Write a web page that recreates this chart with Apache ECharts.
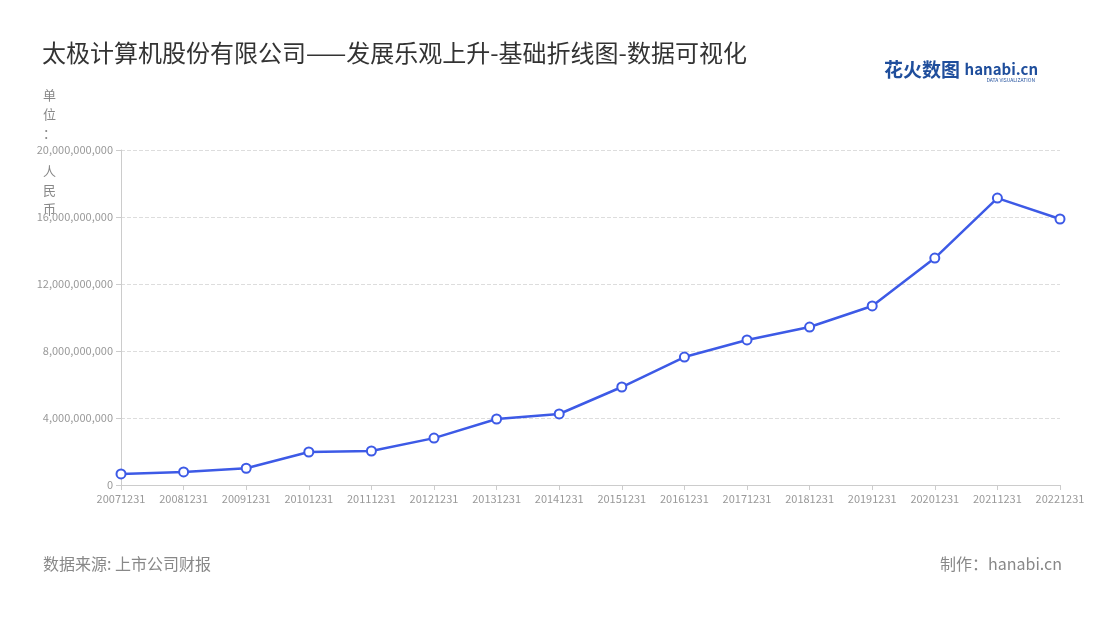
<!DOCTYPE html>
<html><head><meta charset="utf-8">
<script src="https://cdn.jsdelivr.net/npm/echarts@6/dist/echarts.min.js"></script>
<style>html,body{margin:0;padding:0;background:#fff}#c{width:1100px;height:620px}</style>
</head><body><div id="c"></div>
<script>
const categories = ['20071231','20081231','20091231','20101231','20111231','20121231','20131231','20141231','20151231','20161231','20171231','20181231','20191231','20201231','20211231','20221231'];
const revenue = [660000000,780000000,1000000000,1970000000,2030000000,2800000000,3940000000,4240000000,5850000000,7640000000,8660000000,9430000000,10690000000,13550000000,17130000000,15880000000];
const chart = echarts.init(document.getElementById('c'));
const ff = '"Noto Sans CJK SC","Noto Sans",sans-serif';
chart.setOption({
  textStyle:{fontFamily:ff},
  title:{text:'太极计算机股份有限公司——发展乐观上升-基础折线图-数据可视化',left:37,top:36,textStyle:{fontSize:24,fontWeight:'normal',color:'#333',fontFamily:ff}},
  grid:{left:121,right:40,top:150,bottom:135},
  graphic:[
    {type:'text',left:43,top:86,style:{text:'单\n位\n：\n\n人\n民\n币',fill:'#888',font:'13px '+ff,lineHeight:19}},
    {type:'text',left:43,top:556,style:{text:'数据来源: 上市公司财报',fill:'#888',font:'16px '+ff}},
    {type:'text',right:38,top:556,style:{text:'制作：hanabi.cn',fill:'#888',font:'16px '+ff}},
    {type:'text',right:140,top:60,style:{text:'花火数图',fill:'#1f4e9c',font:'bold 19px '+ff}},
    {type:'text',right:62,top:62,style:{text:'hanabi.cn',fill:'#1f4e9c',font:'bold 15px '+ff}},
    {type:'text',right:65,top:78,style:{text:'DATA VISUALIZATION',fill:'#1f4e9c',font:'5px '+ff}}
  ],
  xAxis:{type:'category',data:categories,boundaryGap:false,
    axisLine:{lineStyle:{color:'#ccc'}},axisTick:{show:true,lineStyle:{color:'#ccc'}},
    axisLabel:{color:'#999',fontSize:11,interval:0}},
  yAxis:{type:'value',min:0,max:20000000000,interval:4000000000,
    axisLine:{show:true,lineStyle:{color:'#ccc'}},axisTick:{show:true,lineStyle:{color:'#ccc'}},
    splitLine:{lineStyle:{type:'dashed',color:'#ddd'}},
    axisLabel:{color:'#999',fontSize:11,formatter:v=>v.toLocaleString('en-US')}},
  series:[{type:'line',data:revenue,symbol:'circle',symbolSize:9,
    lineStyle:{color:'#3d5ae6',width:2.5},
    itemStyle:{color:'#fff',borderColor:'#3d5ae6',borderWidth:2}}]
});
</script></body></html>
